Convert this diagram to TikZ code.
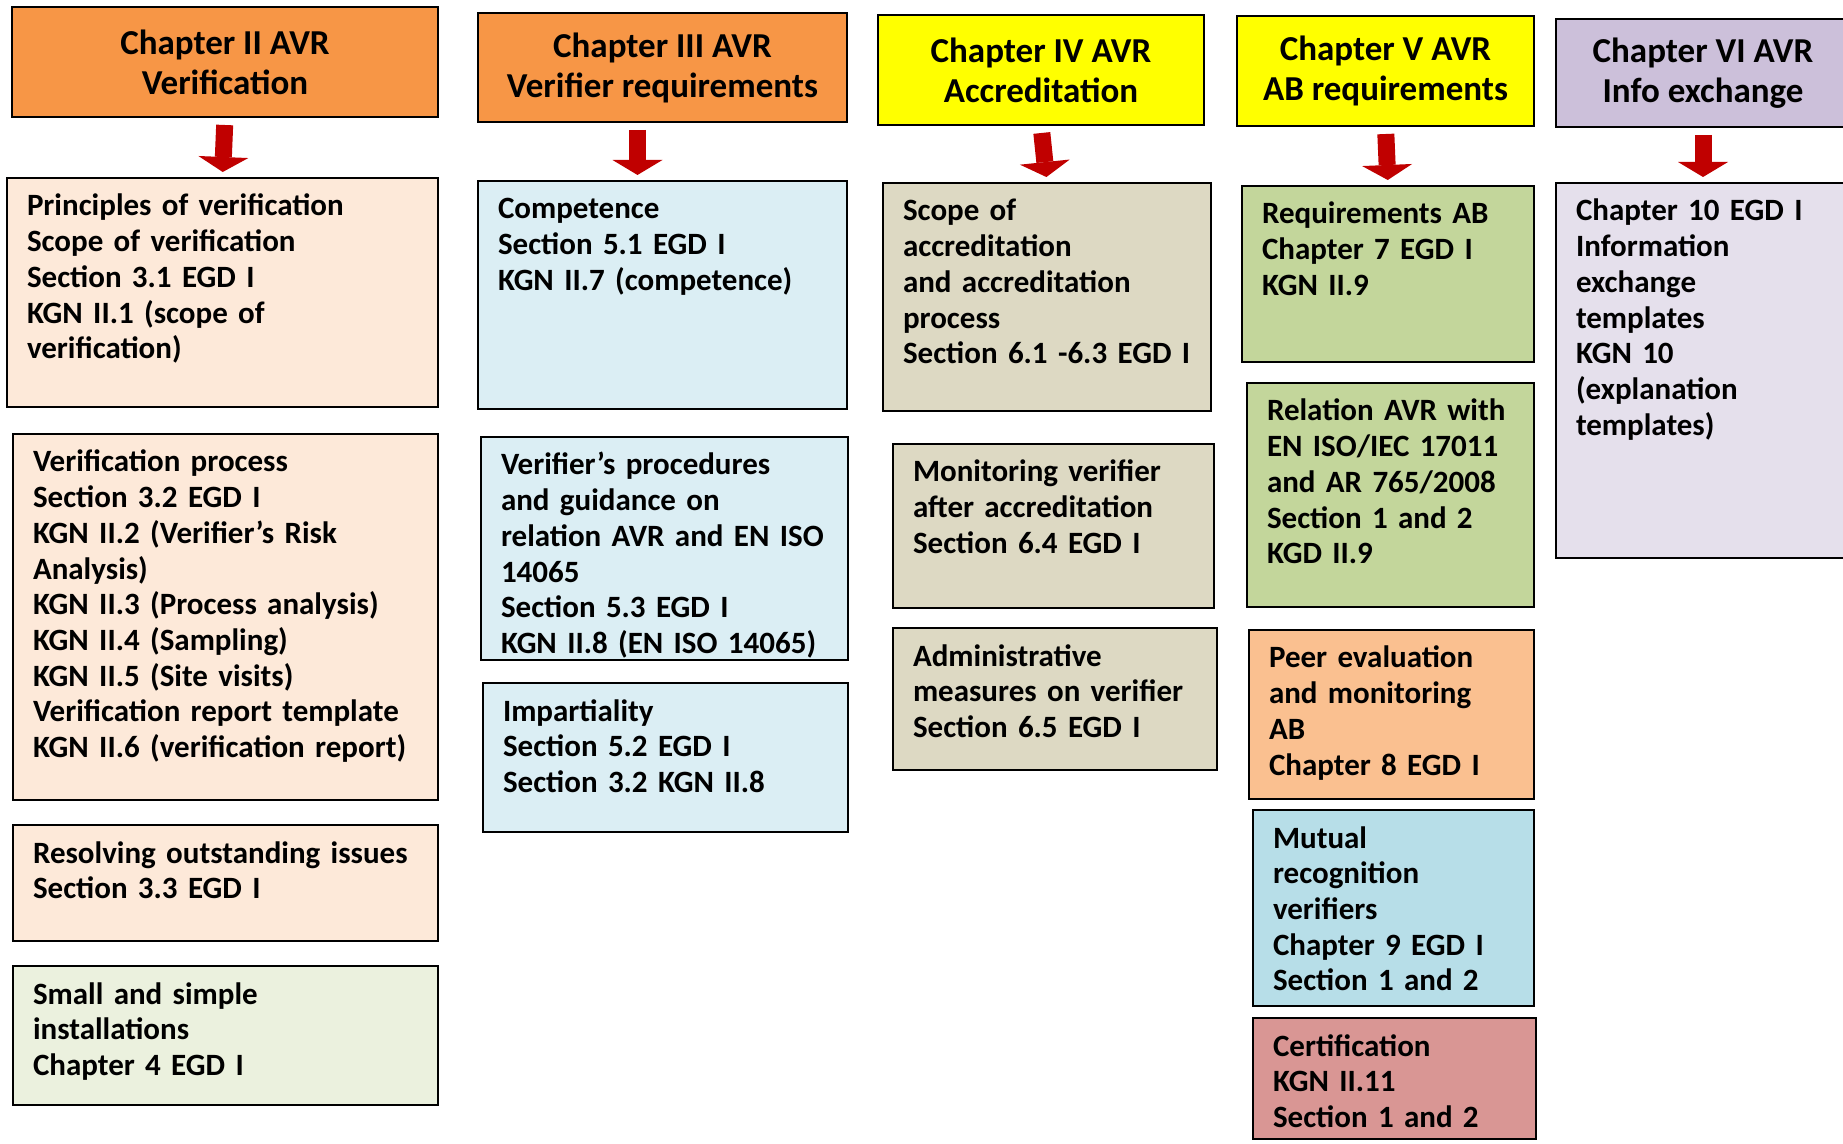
\documentclass[tikz,border=0pt]{standalone}
\usepackage{fontspec}
\setmainfont{Carlito}
\usetikzlibrary{arrows.meta}

\definecolor{orangehead}{HTML}{F79646}
\definecolor{yellowhead}{HTML}{FFFF00}
\definecolor{lilachead}{HTML}{CCC0DA}
\definecolor{peach}{HTML}{FDE9D9}
\definecolor{palegreen}{HTML}{EBF1DE}
\definecolor{paleblue}{HTML}{DBEEF4}
\definecolor{tan}{HTML}{DDD9C3}
\definecolor{olive}{HTML}{C3D69B}
\definecolor{apricot}{HTML}{FAC090}
\definecolor{aqua}{HTML}{B7DEE8}
\definecolor{rose}{HTML}{D99694}
\definecolor{lilac}{HTML}{E5E0EC}
\definecolor{arrowred}{HTML}{C00000}

\newcommand\headfont{\bfseries\fontsize{17.5pt}{20pt}\selectfont}
\newcommand\cellfont{\bfseries\fontsize{15.5pt}{17.85pt}\selectfont}

\tikzset{
  head/.style={draw=black, line width=1.3pt, rectangle, anchor=north west, align=center, font=\headfont, inner sep=0pt, outer sep=0pt},
  cell/.style={draw=black, line width=1.3pt, rectangle, anchor=north west, align=left, font=\cellfont, inner xsep=10pt, inner ysep=0pt, outer sep=0pt, text height=19pt},
  down/.style={draw=arrowred, line width=8.5pt, -{Triangle[length=7.5pt,width=25pt,line width=0pt,fill=arrowred]}, shorten <=4pt, shorten >=3pt}
}

% name, colour, x, y, width, height, text  (sizes in px of the page)
\newcommand\headbox[7]{%
  \node[head, fill=#2, minimum width=#5*0.5pt, minimum height=#6*0.5pt] (#1) at (#3,#4) {#7};}
\newcommand\cellbox[7]{%
  \pgfmathsetmacro\cellw{#5/2-20}%
  \pgfmathsetmacro\celld{#6/2-19}%
  \node[cell, fill=#2, text width=\cellw pt, text depth=\celld pt] (#1) at (#3,#4) {#7};}

\begin{document}
\begin{tikzpicture}[x=0.5pt, y=-0.5pt]

  \fill[white] (0,0) rectangle (1843,1144);
  \useasboundingbox (0,0) rectangle (1843,1144);

  % chapter headings
  \headbox{h1}{orangehead}{12}{7}{426}{110}{Chapter II AVR\\Verification}
  \headbox{h2}{orangehead}{478}{13}{369}{109}{Chapter III AVR\\Verifier requirements}
  \headbox{h3}{yellowhead}{878}{15}{326}{110}{Chapter IV AVR\\Accreditation}
  \headbox{h4}{yellowhead}{1237}{16}{297}{110}{Chapter V AVR\\AB requirements}
  \headbox{h5}{lilachead}{1556}{19}{294}{108}{Chapter VI AVR\\Info exchange}

  % chapter II
  \cellbox{c1a}{peach}{7}{178}{431}{229}{Principles of verification\\Scope of verification\\Section 3.1 EGD I\\KGN II.1 (scope of\\verification)}
  \cellbox{c1b}{peach}{13}{434}{425}{366}{Verification process\\Section 3.2 EGD I\\KGN II.2 (Verifier’s Risk\\Analysis)\\KGN II.3 (Process analysis)\\KGN II.4 (Sampling)\\KGN II.5 (Site visits)\\Verification report template\\KGN II.6 (verification report)}
  \cellbox{c1c}{peach}{13}{825}{425}{116}{Resolving outstanding issues\\Section 3.3 EGD I}
  \cellbox{c1d}{palegreen}{13}{966}{425}{139}{Small and simple\\installations\\Chapter 4 EGD I}

  % chapter III
  \cellbox{c2a}{paleblue}{478}{181}{369}{228}{Competence\\Section 5.1 EGD I\\KGN II.7 (competence)}
  \cellbox{c2b}{paleblue}{481}{437}{367}{223}{Verifier’s procedures\\and guidance on\\relation AVR and EN ISO\\14065\\Section 5.3 EGD I\\KGN II.8 (EN ISO 14065)}
  \cellbox{c2c}{paleblue}{483}{683}{365}{149}{Impartiality\\Section 5.2 EGD I\\Section 3.2 KGN II.8}

  % chapter IV
  \cellbox{c3a}{tan}{883}{183}{328}{228}{Scope of\\accreditation\\and accreditation\\process\\Section 6.1 -6.3 EGD I}
  \cellbox{c3b}{tan}{893}{444}{321}{164}{Monitoring verifier\\after accreditation\\Section 6.4 EGD I}
  \cellbox{c3c}{tan}{893}{628}{324}{142}{Administrative\\measures on verifier\\Section 6.5 EGD I}

  % chapter V
  \cellbox{c4a}{olive}{1242}{186}{292}{176}{Requirements AB\\Chapter 7 EGD I\\KGN II.9}
  \cellbox{c4b}{olive}{1247}{383}{287}{224}{Relation AVR with\\EN ISO/IEC 17011\\and AR 765/2008\\Section 1 and 2\\KGD II.9}
  \cellbox{c4c}{apricot}{1249}{630}{285}{169}{Peer evaluation\\and monitoring\\AB\\Chapter 8 EGD I}
  \cellbox{c4d}{aqua}{1253}{810}{281}{196}{Mutual\\recognition\\verifiers\\Chapter 9 EGD I\\Section 1 and 2}
  \cellbox{c4e}{rose}{1253}{1018}{283}{121}{Certification\\KGN II.11\\Section 1 and 2}

  % chapter VI
  \cellbox{c5a}{lilac}{1556}{183}{294}{375}{Chapter 10 EGD I\\Information\\exchange\\templates\\KGN 10\\(explanation\\templates)}

  % arrows
  \draw[down] (h1.south) -- (c1a.north);
  \draw[down] ([xshift=-12.5pt]h2.south) -- ([xshift=-12.5pt]c2a.north);
  \draw[down] (h3.south) -- (c3a.north);
  \draw[down] (h4.south) -- (c4a.north);
  \draw[down] (h5.south) -- (c5a.north);

\end{tikzpicture}
\end{document}
